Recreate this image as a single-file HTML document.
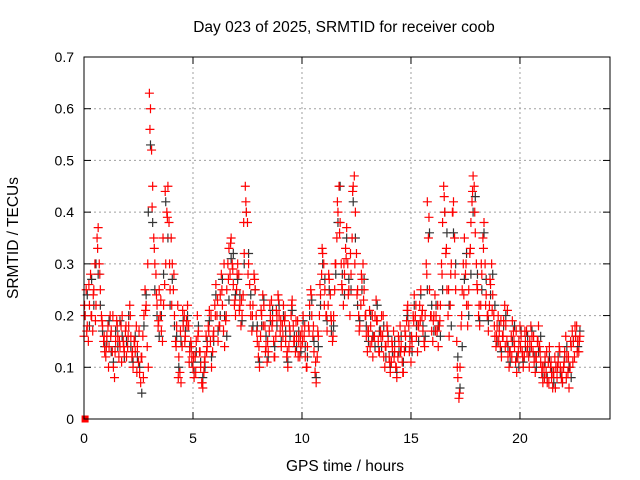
<!DOCTYPE html>
<html><head><meta charset="utf-8"><style>
body{margin:0;background:#fff;}
svg{display:block;font-family:"Liberation Sans",sans-serif;}
</style></head><body>
<svg id="chart" width="640" height="480" viewBox="0 0 640 480" xmlns="http://www.w3.org/2000/svg">
<rect x="0" y="0" width="640" height="480" fill="#fff"/>
<text x="344" y="32" font-size="15.5" text-anchor="middle">Day 023 of 2025, SRMTID for receiver coob</text>
<text x="345" y="471" font-size="15.5" text-anchor="middle">GPS time / hours</text>
<text x="0" y="0" font-size="15.5" text-anchor="middle" transform="translate(18,238) rotate(-90)">SRMTID / TECUs</text>
<g id="grid"></g><g id="axes"></g><g id="black"></g><g id="red"></g>
<rect x="84" y="57" width="526" height="362" fill="none" stroke="#000" stroke-width="1"/>
</svg>
<script>
const xTicks=[0,5,10,15,20];
const yTicks=[0,0.1,0.2,0.3,0.4,0.5,0.6,0.7];
const yTickLabels=["0","0.1","0.2","0.3","0.4","0.5","0.6","0.7"];
const redStart=0, redStep=0.05;
const redValues=[
0.16,0.2,0.25,0.18,0.15,0.22,0.28,0.2,0.17,0.25,0.3,0.22,0.35,0.37,0.3,0.25,0.2,0.18,0.15,0.13,
0.12,0.16,0.18,0.14,0.2,0.17,0.13,0.1,0.08,0.15,0.19,0.16,0.12,0.14,0.18,0.2,0.15,0.13,0.17,0.12,
0.14,0.18,0.22,0.16,0.12,0.1,0.15,0.13,0.18,0.14,0.11,0.09,0.07,0.12,0.16,0.2,0.25,0.22,0.14,0.1,
0.63,0.6,0.52,0.45,0.35,0.3,0.28,0.22,0.18,0.25,0.2,0.17,0.15,0.22,0.26,0.3,0.4,0.45,0.38,0.25,
0.35,0.3,0.25,0.2,0.15,0.18,0.22,0.12,0.09,0.07,0.14,0.18,0.2,0.16,0.19,0.22,0.18,0.13,0.15,0.12,
0.1,0.08,0.12,0.15,0.2,0.17,0.13,0.1,0.07,0.06,0.09,0.12,0.16,0.14,0.18,0.21,0.15,0.1,0.13,0.17,
0.22,0.26,0.2,0.15,0.18,0.24,0.28,0.22,0.17,0.14,0.19,0.25,0.3,0.33,0.28,0.35,0.3,0.26,0.22,0.2,
0.25,0.3,0.28,0.22,0.18,0.2,0.24,0.32,0.45,0.4,0.38,0.3,0.26,0.2,0.17,0.22,0.28,0.25,0.2,0.15,
0.12,0.1,0.16,0.2,0.24,0.22,0.18,0.14,0.11,0.13,0.17,0.2,0.23,0.19,0.15,0.12,0.16,0.2,0.24,0.2,
0.17,0.14,0.18,0.22,0.19,0.15,0.12,0.1,0.14,0.17,0.2,0.23,0.18,0.15,0.13,0.16,0.19,0.15,0.12,0.14,
0.17,0.2,0.16,0.12,0.1,0.14,0.18,0.22,0.25,0.2,0.16,0.13,0.09,0.07,0.12,0.16,0.2,0.24,0.28,0.32,
0.3,0.25,0.2,0.17,0.22,0.27,0.24,0.19,0.15,0.2,0.25,0.3,0.35,0.4,0.45,0.38,0.3,0.25,0.22,0.28,
0.33,0.37,0.3,0.25,0.2,0.28,0.35,0.45,0.47,0.4,0.32,0.25,0.2,0.18,0.22,0.27,0.3,0.25,0.2,0.16,
0.13,0.17,0.21,0.18,0.15,0.12,0.16,0.2,0.23,0.19,0.15,0.13,0.17,0.2,0.16,0.12,0.1,0.14,0.18,0.15,
0.12,0.09,0.11,0.14,0.17,0.13,0.1,0.08,0.12,0.15,0.18,0.14,0.11,0.09,0.13,0.16,0.19,0.22,0.18,0.14,
0.11,0.15,0.2,0.24,0.2,0.16,0.13,0.18,0.22,0.25,0.2,0.17,0.15,0.2,0.3,0.42,0.35,0.25,0.2,0.17,
0.15,0.2,0.24,0.2,0.17,0.14,0.18,0.22,0.3,0.38,0.45,0.4,0.32,0.25,0.2,0.16,0.22,0.3,0.4,0.42,
0.35,0.25,0.15,0.08,0.04,0.1,0.18,0.25,0.3,0.35,0.28,0.22,0.18,0.25,0.32,0.38,0.42,0.47,0.45,0.36,
0.3,0.25,0.2,0.18,0.22,0.28,0.35,0.38,0.3,0.24,0.2,0.17,0.22,0.26,0.3,0.24,0.2,0.16,0.14,0.18,
0.2,0.17,0.14,0.12,0.16,0.19,0.22,0.18,0.15,0.12,0.1,0.13,0.16,0.19,0.17,0.14,0.11,0.09,0.12,0.15,
0.18,0.16,0.13,0.1,0.12,0.15,0.17,0.14,0.12,0.15,0.18,0.16,0.13,0.11,0.09,0.12,0.15,0.18,0.14,0.11,
0.09,0.07,0.1,0.12,0.09,0.07,0.11,0.14,0.1,0.08,0.06,0.09,0.12,0.1,0.08,0.11,0.14,0.1,0.08,0.07,
0.1,0.13,0.16,0.12,0.09,0.06,0.1,0.14,0.17,0.15,0.12,0.16,0.18,0.15,0.13,0.16];
const red2Start=0.025, red2Step=0.1;
const red2Values=[
0.22,0.17,0.26,0.2,0.24,0.19,0.33,0.28,0.19,0.16,
0.14,0.1,0.16,0.2,0.13,0.18,0.15,0.11,0.14,0.18,
0.16,0.2,0.13,0.15,0.09,0.17,0.12,0.08,0.21,0.3,
0.56,0.41,0.33,0.24,0.19,0.23,0.35,0.44,0.39,0.3,
0.22,0.28,0.14,0.08,0.17,0.21,0.15,0.18,0.11,0.14,
0.12,0.09,0.16,0.13,0.07,0.11,0.13,0.17,0.2,0.16,
0.2,0.23,0.18,0.25,0.3,0.2,0.27,0.34,0.29,0.23,
0.28,0.21,0.23,0.38,0.42,0.28,0.22,0.2,0.27,0.17,
0.14,0.21,0.18,0.13,0.15,0.22,0.18,0.12,0.21,0.23,
0.19,0.16,0.2,0.13,0.18,0.22,0.15,0.19,0.12,0.16,
0.15,0.18,0.1,0.17,0.24,0.18,0.11,0.17,0.26,0.33,
0.22,0.2,0.28,0.2,0.16,0.3,0.42,0.36,0.26,0.3,
0.31,0.24,0.32,0.44,0.3,0.24,0.17,0.28,0.23,0.2,
0.17,0.14,0.2,0.16,0.19,0.13,0.16,0.2,0.14,0.17,
0.11,0.15,0.12,0.1,0.16,0.13,0.09,0.17,0.21,0.13,
0.16,0.19,0.22,0.18,0.19,0.21,0.14,0.28,0.39,0.2,
0.19,0.17,0.22,0.19,0.28,0.43,0.33,0.25,0.28,0.4,
0.28,0.1,0.05,0.2,0.24,0.3,0.22,0.33,0.44,0.4,
0.26,0.22,0.3,0.33,0.22,0.2,0.27,0.21,0.18,0.16,
0.15,0.19,0.16,0.14,0.21,0.13,0.12,0.15,0.17,0.13,
0.14,0.12,0.17,0.13,0.1,0.14,0.16,0.12,0.15,0.13,
0.1,0.08,0.13,0.07,0.11,0.09,0.06,0.1,0.13,0.09,
0.11,0.08,0.12,0.15,0.11,0.18,0.13,0.15];
const blackStart=0.05, blackStep=0.1;
const blackValues=[
0.2,0.24,0.18,0.27,0.22,0.3,0.28,0.22,0.17,0.14,
0.15,0.19,0.13,0.11,0.17,0.14,0.19,0.16,0.12,0.15,
0.2,0.14,0.11,0.16,0.12,0.1,0.05,0.18,0.24,0.4,
0.53,0.38,0.25,0.2,0.16,0.2,0.28,0.42,0.35,0.22,
0.27,0.18,0.16,0.1,0.15,0.19,0.17,0.2,0.14,0.11,
0.09,0.13,0.18,0.11,0.08,0.1,0.15,0.19,0.12,0.15,
0.24,0.17,0.2,0.27,0.2,0.16,0.23,0.31,0.32,0.24,
0.27,0.24,0.19,0.3,0.4,0.32,0.24,0.18,0.25,0.18,
0.11,0.18,0.23,0.16,0.12,0.19,0.21,0.14,0.18,0.22,
0.15,0.2,0.17,0.11,0.16,0.21,0.16,0.14,0.17,0.13,
0.19,0.14,0.12,0.2,0.23,0.15,0.08,0.14,0.22,0.3,
0.27,0.19,0.25,0.17,0.18,0.28,0.38,0.45,0.28,0.24,
0.35,0.27,0.25,0.42,0.35,0.22,0.19,0.25,0.27,0.18,
0.15,0.2,0.16,0.14,0.22,0.17,0.14,0.18,0.12,0.16,
0.1,0.13,0.15,0.09,0.13,0.16,0.11,0.14,0.2,0.16,
0.13,0.22,0.18,0.15,0.24,0.18,0.16,0.25,0.36,0.22,
0.17,0.22,0.18,0.16,0.25,0.4,0.36,0.22,0.18,0.36,
0.3,0.12,0.06,0.14,0.27,0.32,0.2,0.28,0.4,0.43,
0.28,0.19,0.25,0.36,0.27,0.19,0.24,0.28,0.22,0.15,
0.18,0.13,0.18,0.2,0.14,0.11,0.15,0.18,0.12,0.1,
0.17,0.11,0.14,0.16,0.13,0.17,0.12,0.1,0.13,0.16,
0.08,0.11,0.08,0.12,0.09,0.07,0.1,0.12,0.09,0.07,
0.12,0.14,0.1,0.08,0.15,0.16,0.14,0.17];
const outlierTimes=[0.05];
const outlierValues=[0];

const NS="http://www.w3.org/2000/svg";
const X0=84,X1=610,Y0=419,Y1=57,XMAX=24.13,YMAX=0.7;
function xs(t){return X0+(X1-X0)*t/XMAX;}
function ys(v){return Y0-(Y0-Y1)*v/YMAX;}
function mk(tag,attrs,parent){const e=document.createElementNS(NS,tag);for(const k in attrs)e.setAttribute(k,attrs[k]);parent.appendChild(e);return e;}
const grid=document.getElementById('grid'),axes=document.getElementById('axes');
xTicks.forEach(t=>{
  const x=xs(t);
  if(t>0){const g=mk('line',{x1:x,y1:Y0,x2:x,y2:Y1,stroke:'#a0a0a0','stroke-dasharray':'2,3','stroke-width':1},grid);
  
  }
  mk('line',{x1:x,y1:Y0,x2:x,y2:Y0-7,stroke:'#000'},axes);
  mk('line',{x1:x,y1:Y1,x2:x,y2:Y1+7,stroke:'#000'},axes);
  const l=mk('text',{x:x,y:Y0+24,'font-size':14,'text-anchor':'middle'},axes);l.textContent=String(t);
  
  
});
yTicks.forEach((v,i)=>{
  const y=ys(v);
  if(v>0&&v<YMAX){const g=mk('line',{x1:X0,y1:y,x2:X1,y2:y,stroke:'#a0a0a0','stroke-dasharray':'2,3','stroke-width':1},grid);
  
  }
  mk('line',{x1:X0,y1:y,x2:X0+7,y2:y,stroke:'#000'},axes);
  mk('line',{x1:X1,y1:y,x2:X1-7,y2:y,stroke:'#000'},axes);
  const l=mk('text',{x:X0-10,y:y+5,'font-size':14,'text-anchor':'end'},axes);l.textContent=yTickLabels[i];
  
  
});
function plus(g,t,v,color,name){
  const x=xs(t),y=ys(v);
  const p=mk('path',{d:`M${x-4.5},${y}h9M${x},${y-4.5}v9`,stroke:color,'stroke-width':1.2,fill:'none'},g);
  
  
}
const bg=document.getElementById('black'),rg=document.getElementById('red');
blackValues.forEach((v,i)=>plus(bg,blackStart+i*blackStep,v,'#333','black-point'));
redValues.forEach((v,i)=>plus(rg,redStart+i*redStep,v,'#ff0000','red-point'));
red2Values.forEach((v,i)=>plus(rg,red2Start+i*red2Step,v,'#ff0000','red-point'));
outlierTimes.forEach((t,i)=>{
  const r=mk('rect',{x:xs(t)-3.5,y:ys(outlierValues[i])-3.5,width:7,height:7,fill:'#ff0000'},rg);
  
  
});
</script>
</body></html>
